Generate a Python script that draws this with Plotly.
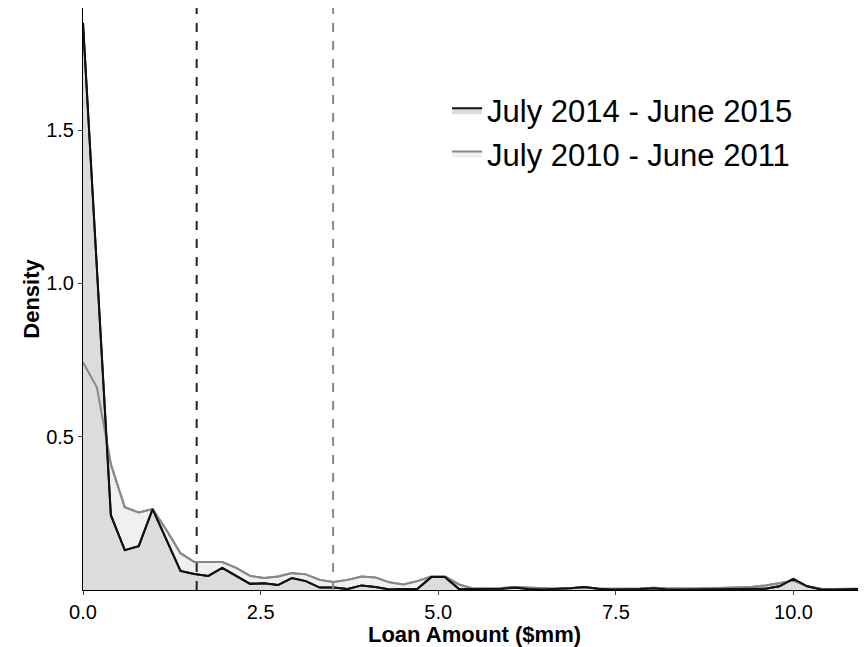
import plotly.graph_objects as go

step = 0.196
black = [1.85, 1.05, 0.244, 0.13, 0.143, 0.264, 0.163, 0.062, 0.052, 0.046, 0.072, 0.046, 0.02, 0.022,
         0.016, 0.039, 0.029, 0.008, 0.008, 0.003, 0.015, 0.01, 0.002, 0.003, 0.003, 0.042, 0.042, 0.003,
         0.003, 0.003, 0.004, 0.008, 0.003, 0.002, 0.003, 0.006, 0.01, 0.004, 0.002, 0.002, 0.003, 0.006,
         0.002, 0.002, 0.002, 0.002, 0.003, 0.003, 0.002, 0.004, 0.012, 0.036, 0.012, 0.002, 0.002, 0.002, 0.004]
grey = [0.743, 0.66, 0.41, 0.27, 0.253, 0.264, 0.195, 0.12, 0.091, 0.091, 0.091, 0.072, 0.046, 0.039,
        0.044, 0.055, 0.051, 0.033, 0.026, 0.033, 0.044, 0.041, 0.025, 0.018, 0.029, 0.044, 0.044, 0.018,
        0.005, 0.005, 0.006, 0.01, 0.008, 0.005, 0.004, 0.006, 0.008, 0.005, 0.004, 0.004, 0.005, 0.007,
        0.005, 0.004, 0.005, 0.006, 0.008, 0.01, 0.01, 0.015, 0.022, 0.03, 0.012, 0.004, 0.003, 0.003, 0.004]
xs = [i * step for i in range(len(black))]
mean_2015 = 1.6
mean_2011 = 3.52
labels = ["July 2014 - June 2015", "July 2010 - June 2011"]

fig = go.Figure()
fig.add_trace(go.Scatter(x=xs, y=grey, fill="tozeroy", fillcolor="#f0f0f0", mode="lines",
                         line=dict(color="#888888", width=2), name=labels[1], legendrank=2))
fig.add_trace(go.Scatter(x=xs, y=black, fill="tozeroy", fillcolor="#dcdcdc", mode="lines",
                         line=dict(color="#111111", width=2), name=labels[0], legendrank=1))
fig.add_trace(go.Scatter(x=xs, y=grey, mode="lines", line=dict(color="#888888", width=2), showlegend=False))
fig.add_trace(go.Scatter(x=xs, y=black, mode="lines", line=dict(color="#111111", width=2), showlegend=False))
fig.add_vline(x=mean_2015, line=dict(color="#222222", width=2, dash="dash"))
fig.add_vline(x=mean_2011, line=dict(color="#888888", width=2, dash="dash"))

fig.update_layout(
    width=858, height=639, margin=dict(l=75, r=0, t=0, b=57),
    plot_bgcolor="white", paper_bgcolor="white",
    font=dict(family="Liberation Sans, Arial", color="black"),
    legend=dict(x=0.465, y=0.87, xanchor="left", yanchor="top", font=dict(size=31),
                bgcolor="rgba(0,0,0,0)", tracegroupgap=0, itemwidth=30),
    xaxis=dict(range=[0, 11.02], tickvals=[0, 2.5, 5, 7.5, 10], ticktext=["0.0", "2.5", "5.0", "7.5", "10.0"],
               showgrid=False, zeroline=False, showline=True, linecolor="black", ticks="outside",
               ticklen=4, tickfont=dict(size=20), automargin=False,
               title=dict(text="<b>Loan Amount ($mm)</b>", font=dict(size=22), standoff=0)),
    yaxis=dict(range=[0, 1.898], tickvals=[0.5, 1.0, 1.5], ticktext=["0.5", "1.0", "1.5"],
               showgrid=False, zeroline=False, showline=True, linecolor="black", ticks="outside",
               ticklen=4, tickfont=dict(size=20), automargin=False,
               title=dict(text="<b>Density</b>", font=dict(size=22), standoff=0)),
)
fig.write_html("out.html")
